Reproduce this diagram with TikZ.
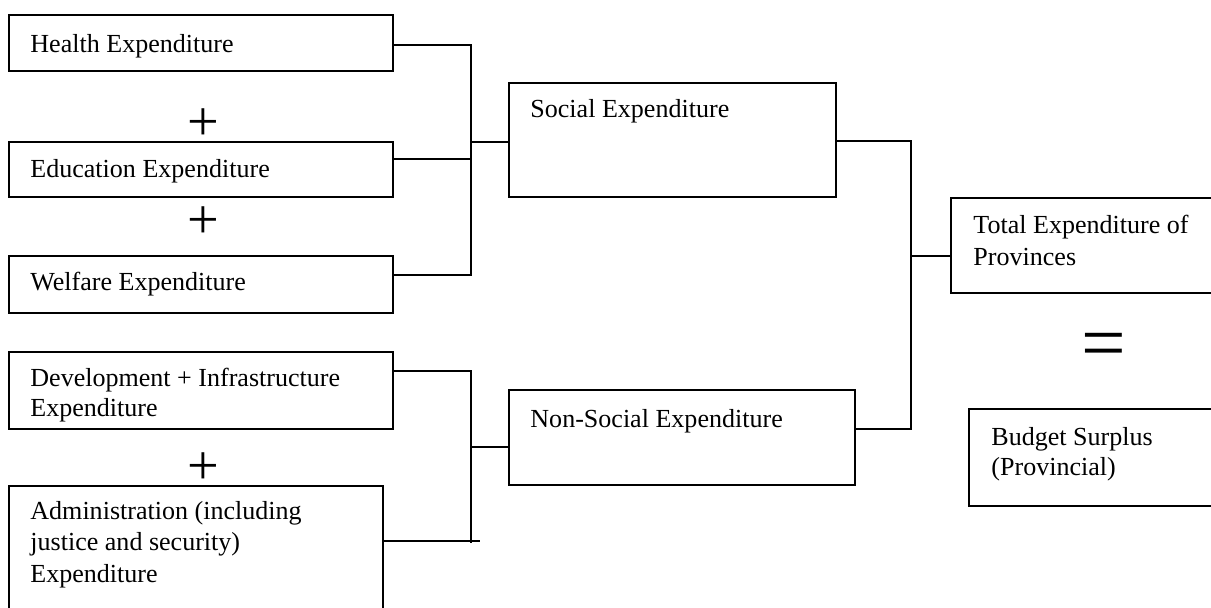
\documentclass[tikz,border=0pt]{standalone}
\usepackage{fontspec}
\setmainfont{Liberation Serif}
\usetikzlibrary{fit,calc}

\tikzset{
  box/.style={draw, line width=0.9pt, inner sep=0pt, rectangle},
  txt/.style={anchor=base west, inner sep=0pt, align=left, font=\fontsize{12.5}{14}\selectfont},
  op/.style={inner sep=0pt, font=\fontsize{27}{27}\selectfont},
  link/.style={line width=0.9pt},
}

\begin{document}
\begin{tikzpicture}[x=0.48pt, y=-0.48pt]

    % --- Frame (picture in pixel units) ---
    \useasboundingbox (0,0) rectangle (1211,607);
    \clip (0,0) rectangle (1211,607);

    % --- Social items (left, top) ---
    \node[box, fit={(9,15) (393,71)}] (health) {};
    \node[box, fit={(9,142) (393,197)}] (edu) {};
    \node[box, fit={(9,256) (393,313)}] (welf) {};
    \node[txt] (healthtxt) at (30,52) {Health Expenditure};
    \node[txt] (edutxt) at (30,177) {Education Expenditure};
    \node[txt] (welftxt) at (30,290) {Welfare Expenditure};

    % --- Non-social items (left, bottom) ---
    % multi-line texts sit on the baseline of their last line
    \node[box, fit={(9,352) (393,429)}] (dev) {};
    \node[box, fit={(9,486) (383,620)}] (admin) {};
    \node[txt] (devtxt) at (30,416) {Development + Infrastructure\\Expenditure};
    \node[txt, font=\fontsize{12.5}{14.9}\selectfont] (admintxt) at (30,582)
        {Administration (including\\justice and security)\\Expenditure};

    % --- Plus signs between the items ---
    \node[op] (plusa) at (203,125) {+};
    \node[op] (plusb) at (203,223) {+};
    \node[op] (plusc) at (203,469) {+};

    % --- Middle column ---
    \node[box, fit={(509,83) (836,197)}] (social) {};
    \node[box, fit={(509,390) (855,485)}] (nonsoc) {};
    \node[txt] (socialtxt) at (530,117) {Social Expenditure};
    \node[txt] (nonsoctxt) at (530,427) {Non-Social Expenditure};

    % --- Right column ---
    \node[box, fit={(951,198) (1240,293)}] (total) {};
    \node[box, fit={(969,409) (1240,506)}] (surplus) {};
    \node[txt, font=\fontsize{12.5}{15.3}\selectfont] (totaltxt) at (973,265)
        {Total Expenditure of\\Provinces};
    \node[txt] (surplustxt) at (991,475) {Budget Surplus\\(Provincial)};
    \node[inner sep=0pt, font=\fontsize{38}{38}\selectfont] (equals) at (1104,351) {=};

    % --- Bus junctions ---
    \coordinate (sbus) at (471,142);
    \coordinate (nbus) at (471,447);
    \coordinate (tbus) at (911,256);

    % --- Connectors ---
    \draw[link] (health.east |- 0,45) -| (sbus) |- (welf.east |- 0,275);
    \draw[link] (edu.east |- 0,159) -- (sbus |- 0,159);
    \draw[link] (sbus) -- (social.west |- sbus);

    \draw[link] (dev.east |- 0,371) -| (nbus |- 0,543);
    \draw[link] (admin.east |- 0,541) -- (480,541);
    \draw[link] (nbus) -- (nonsoc.west |- nbus);

    \draw[link] (social.east |- 0,141) -| (tbus) |- (nonsoc.east |- 0,429);
    \draw[link] (tbus) -- (total.west |- tbus);

\end{tikzpicture}
\end{document}
